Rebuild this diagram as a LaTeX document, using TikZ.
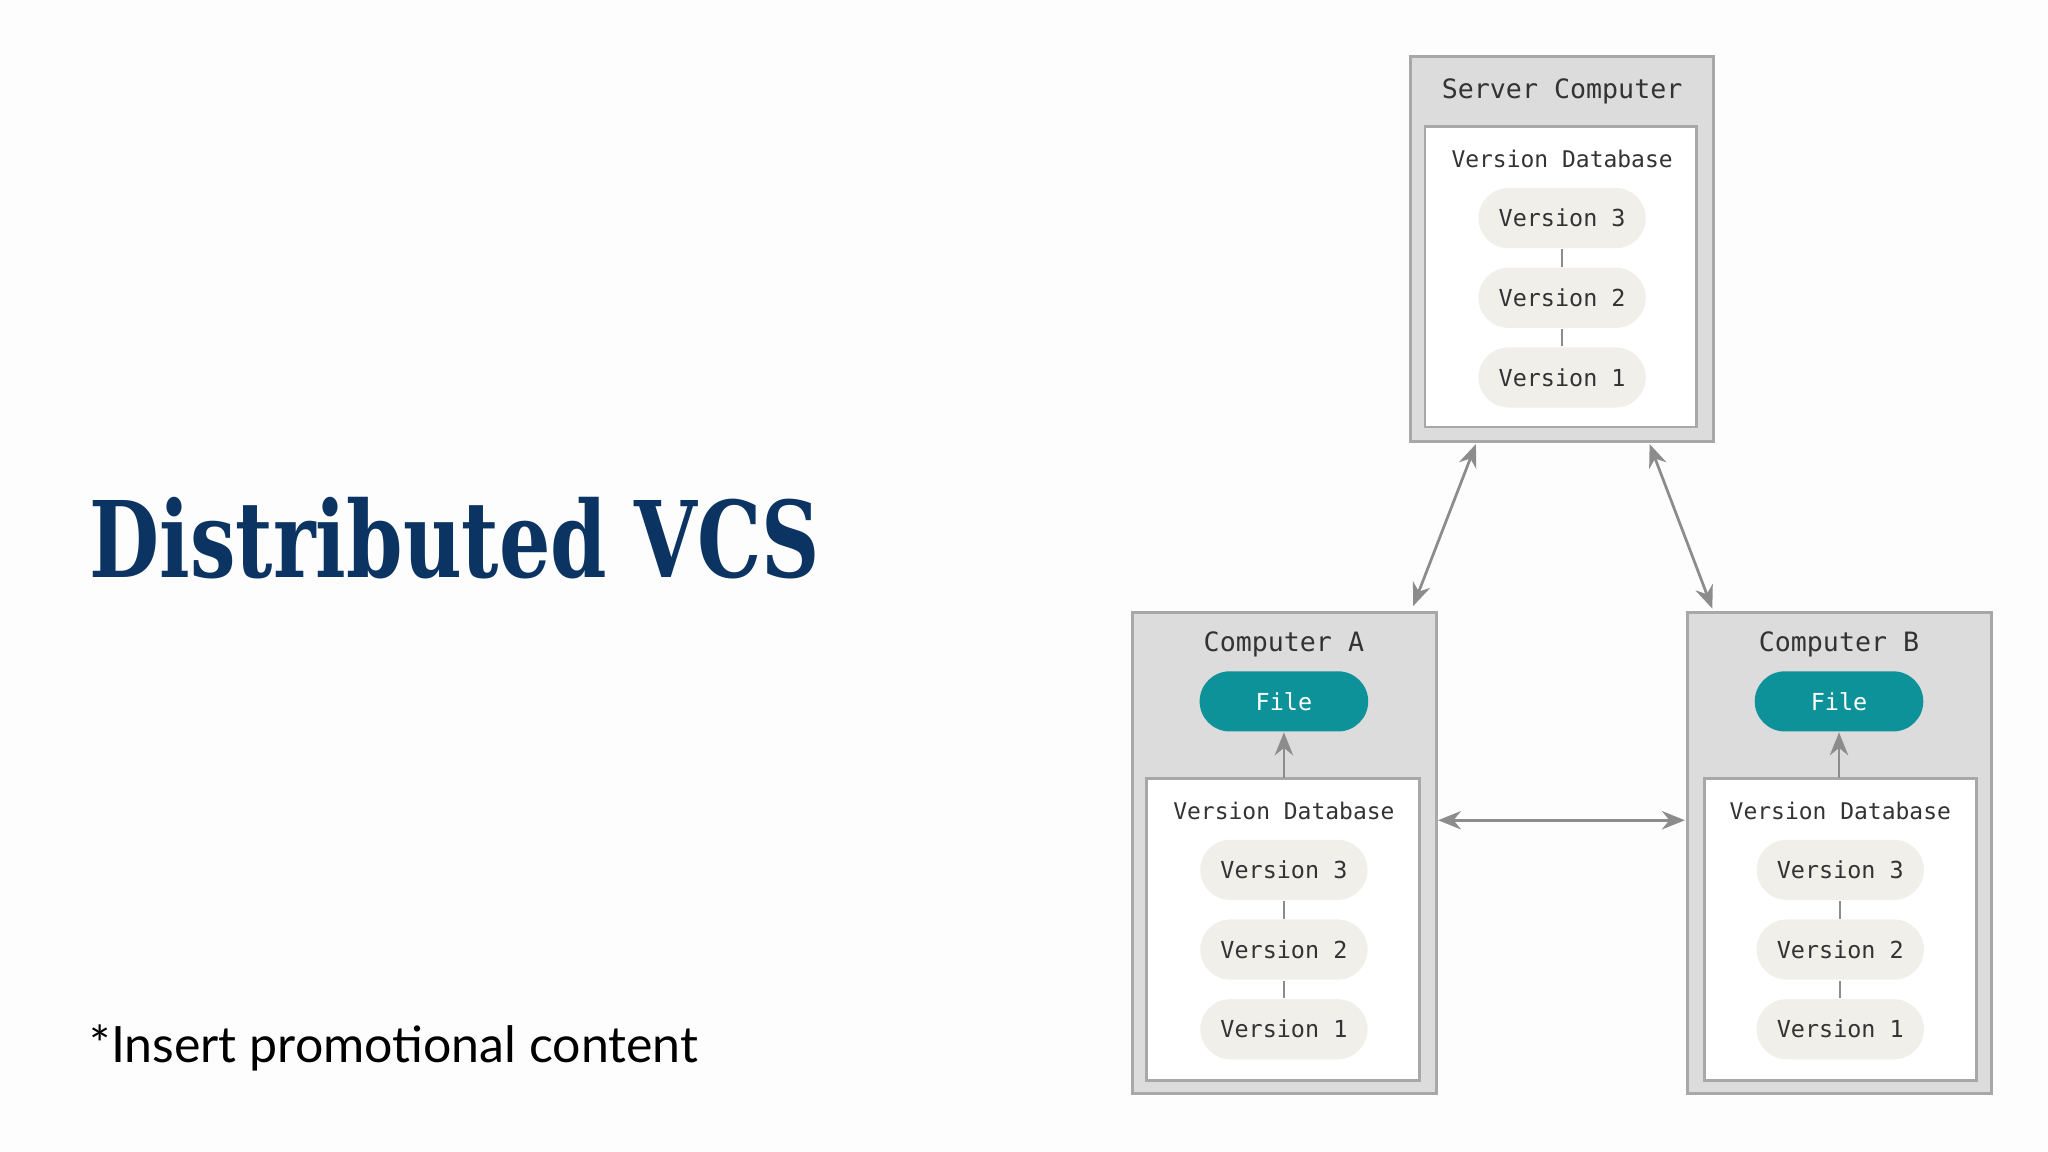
\documentclass[tikz,border=0pt]{standalone}
\usepackage{fontspec}
\setmainfont{DejaVu Sans}
\newfontfamily\mono{DejaVu Sans Mono}
\newfontfamily\ttl{DejaVu Serif Condensed}
\newfontfamily\capfont{Lato}
\usetikzlibrary{arrows.meta}
\definecolor{boxg}{HTML}{DCDCDC}
\definecolor{boxb}{HTML}{A8A8A8}
\definecolor{pill}{HTML}{F0EFEA}
\definecolor{teal}{HTML}{0E9299}
\definecolor{navy}{HTML}{0B3462}
\definecolor{arr}{HTML}{8C8C8C}
\begin{document}
\begin{tikzpicture}[x=0.01cm,y=-0.01cm,
  outer/.style={draw=boxb,fill=boxg,line width=0.6pt},
  inner/.style={draw=boxb,fill=white,line width=0.6pt},
  lbl/.style={font=\mono\fontsize{5.8}{7}\selectfont,text=black!80},
  dbl/.style={font=\mono\fontsize{5.0}{6}\selectfont,text=black!80},
  ver/.style={rounded corners=0.23cm,fill=pill,minimum width=1.28cm,minimum height=0.46cm,font=\mono\fontsize{5.1}{6}\selectfont,text=black!80,inner sep=0},
  file/.style={rounded corners=0.23cm,fill=teal,minimum width=1.29cm,minimum height=0.46cm,font=\mono\fontsize{5.1}{6}\selectfont,text=white,inner sep=0},
  link/.style={draw=arr,line width=0.5pt},
  arrow/.style={draw=arr,line width=0.6pt,{Stealth[length=5pt,width=4pt]}-{Stealth[length=5pt,width=4pt]}},
  uparrow/.style={draw=arr,line width=0.6pt,-{Stealth[length=5pt,width=4pt]}}]
\fill[white!99.3!black] (0,0) rectangle (1568,882);
\useasboundingbox (0,0) rectangle (1568,882);
\node[anchor=west,font=\ttl\bfseries\fontsize{23}{26}\selectfont,text=navy,inner sep=0] (title) at (68,412) {\scalebox{0.85}[1]{Distributed VCS}};
\node[anchor=west,font=\capfont\fontsize{10.9}{13}\selectfont,inner sep=0] (capt) at (68,802) {*Insert promotional content};
% server
\draw[outer] (1080,43) rectangle (1312,338);
\draw[inner] (1091,97) rectangle (1299,327);
\node[lbl] (st) at (1196,70) {Server Computer};
\node[dbl] (sd) at (1196,122) {Version Database};
\node[ver] (s3) at (1196,167) {Version 3};
\node[ver] (s2) at (1196,228) {Version 2};
\node[ver] (s1) at (1196,289) {Version 1};
\draw[link] (s3)--(s2) (s2)--(s1);
% A
\draw[outer] (867,469) rectangle (1100,837);
\draw[inner] (878,596) rectangle (1087,827);
\node[lbl] (at) at (983,493) {Computer A};
\node[file] (af) at (983,537) {File};
\coordinate (ai) at (983,596);
\node[dbl] (ad) at (983,621) {Version Database};
\node[ver] (a3) at (983,666) {Version 3};
\node[ver] (a2) at (983,727) {Version 2};
\node[ver] (a1) at (983,788) {Version 1};
\draw[link] (a3)--(a2) (a2)--(a1);
\draw[uparrow] (ai)--(af);
% B
\draw[outer] (1292,469) rectangle (1525,837);
\draw[inner] (1305,596) rectangle (1513,827);
\node[lbl] (bt) at (1408,493) {Computer B};
\node[file] (bf) at (1408,537) {File};
\coordinate (bi) at (1408,596);
\node[dbl] (bd) at (1409,621) {Version Database};
\node[ver] (b3) at (1409,666) {Version 3};
\node[ver] (b2) at (1409,727) {Version 2};
\node[ver] (b1) at (1409,788) {Version 1};
\draw[link] (b3)--(b2) (b2)--(b1);
\draw[uparrow] (bi)--(bf);
% links
\coordinate (p1) at (1130,340); \coordinate (p2) at (1082,464);
\coordinate (p3) at (1263,340); \coordinate (p4) at (1311,466);
\coordinate (p5) at (1101,628); \coordinate (p6) at (1290,628);
\draw[arrow] (p1)--(p2);
\draw[arrow] (p3)--(p4);
\draw[arrow] (p5)--(p6);
\end{tikzpicture}
\end{document}
